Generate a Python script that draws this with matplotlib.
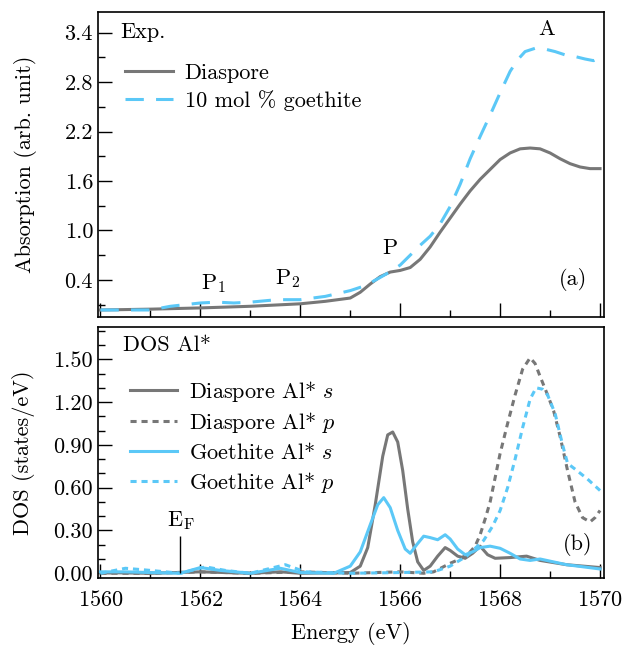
import matplotlib
matplotlib.use("Agg")
import matplotlib.pyplot as plt
from matplotlib.ticker import MultipleLocator, FormatStrFormatter

plt.rcParams['font.family'] = 'serif'
plt.rcParams['font.serif'] = ['cmr10']
plt.rcParams['mathtext.fontset'] = 'cm'
plt.rcParams['axes.formatter.use_mathtext'] = True
plt.rcParams['font.size'] = 16

GRAY = "#777777"
BLUE = "#5bc8f7"

# Experimental spectra (a)
e_dia = [1560, 1561, 1562, 1563, 1564, 1564.5, 1565, 1565.2, 1565.4, 1565.6, 1565.8, 1566.0, 1566.2,
         1566.4, 1566.6, 1566.8, 1567, 1567.2, 1567.4, 1567.6, 1567.8, 1568, 1568.2, 1568.4, 1568.6,
         1568.8, 1569, 1569.2, 1569.4, 1569.6, 1569.8, 1570]
a_dia = [0.035, 0.045, 0.06, 0.08, 0.11, 0.14, 0.18, 0.25, 0.35, 0.44, 0.495, 0.515, 0.55,
         0.65, 0.8, 0.98, 1.15, 1.32, 1.48, 1.62, 1.74, 1.86, 1.94, 1.99, 2.0,
         1.99, 1.94, 1.87, 1.81, 1.77, 1.75, 1.75]

e_goe = [1560, 1561, 1561.4, 1562, 1562.33, 1562.67, 1563, 1563.53, 1564, 1564.5, 1565, 1565.3,
         1565.6, 1565.8, 1566, 1566.2, 1566.4, 1566.6, 1566.8, 1567, 1567.2, 1567.4, 1567.6, 1567.8,
         1568, 1568.2, 1568.35, 1568.5, 1568.7, 1568.9, 1569.1, 1569.3, 1569.5, 1569.7, 1569.87, 1570]
a_goe = [0.035, 0.035, 0.08, 0.12, 0.13, 0.12, 0.13, 0.16, 0.16, 0.2, 0.27, 0.33,
         0.43, 0.5, 0.58, 0.7, 0.82, 0.93, 1.08, 1.29, 1.56, 1.87, 2.14, 2.4,
         2.67, 2.93, 3.07, 3.17, 3.21, 3.2, 3.17, 3.13, 3.11, 3.08, 3.06, 3.1]

# Calculated DOS (b)
e_ds = [1560, 1561, 1562, 1563, 1563.6, 1564, 1565, 1565.2, 1565.35, 1565.5, 1565.65, 1565.75,
        1565.85, 1565.95, 1566.05, 1566.15, 1566.25, 1566.35, 1566.47, 1566.6, 1566.75, 1566.9,
        1567.0, 1567.15, 1567.3, 1567.45, 1567.6, 1567.75, 1567.9, 1568.2, 1568.53, 1568.8,
        1569.33, 1570]
d_ds = [0.005, 0.0, 0.01, 0.0, 0.01, 0.0, 0.005, 0.05, 0.18, 0.48, 0.82, 0.97,
        0.99, 0.92, 0.72, 0.45, 0.22, 0.08, 0.02, 0.05, 0.12, 0.18,
        0.16, 0.12, 0.105, 0.14, 0.19, 0.13, 0.105, 0.11, 0.12, 0.09,
        0.06, 0.04]

e_dp = [1560, 1561, 1562, 1563, 1564, 1565, 1566, 1566.47, 1566.67, 1567, 1567.2, 1567.4, 1567.5,
        1567.6, 1567.7, 1567.8, 1567.9, 1568, 1568.15, 1568.3, 1568.45, 1568.6, 1568.7, 1568.8,
        1568.95, 1569.07, 1569.2, 1569.35, 1569.5, 1569.65, 1569.8, 1569.9, 1570]
d_dp = [0.0, 0.0, 0.01, 0.0, 0.01, 0.0, 0.01, 0.0, 0.01, 0.07, 0.1, 0.15, 0.19,
        0.27, 0.38, 0.5, 0.67, 0.84, 1.05, 1.25, 1.43, 1.51, 1.47, 1.38,
        1.25, 1.14, 0.96, 0.72, 0.5, 0.39, 0.36, 0.39, 0.44]

e_gs = [1560, 1560.5, 1561, 1561.6, 1562, 1562.4, 1563, 1563.6, 1564, 1564.67, 1565, 1565.2,
        1565.4, 1565.55, 1565.67, 1565.8, 1565.95, 1566.1, 1566.2, 1566.33, 1566.47, 1566.6,
        1566.75, 1566.9, 1567.0, 1567.15, 1567.3, 1567.45, 1567.6, 1567.8, 1568, 1568.2, 1568.4,
        1568.6, 1568.8, 1569.33, 1570]
d_gs = [0.01, 0.01, 0.005, 0.0, 0.04, 0.02, 0.0, 0.035, 0.005, 0.0, 0.05, 0.15,
        0.34, 0.48, 0.53, 0.46, 0.3, 0.17, 0.14, 0.2, 0.26, 0.25,
        0.235, 0.27, 0.24, 0.17, 0.13, 0.15, 0.18, 0.19, 0.175, 0.14, 0.1,
        0.09, 0.1, 0.06, 0.03]

e_gp = [1560, 1560.5, 1561, 1561.6, 1562.1, 1562.5, 1563, 1563.7, 1564.1, 1565, 1566, 1566.67, 1567,
        1567.33, 1567.67, 1567.85, 1568, 1568.15, 1568.3, 1568.45, 1568.6, 1568.72, 1568.85,
        1568.95, 1569.1, 1569.25, 1569.35, 1569.5, 1569.75, 1570]
d_gp = [0.0, 0.035, 0.02, 0.0, 0.045, 0.02, 0.0, 0.06, 0.01, 0.0, 0.005, 0.01, 0.05,
        0.12, 0.23, 0.33, 0.44, 0.6, 0.8, 1.02, 1.22, 1.30, 1.29,
        1.25, 1.12, 0.9, 0.77, 0.73, 0.66, 0.58]

fig = plt.figure(figsize=(6.24, 6.46), dpi=100)
ax1 = fig.add_axes([0.157, 0.5093, 0.811, 0.4721])
ax2 = fig.add_axes([0.157, 0.1053, 0.811, 0.3885])

# (a) experiment
ax1.plot(e_dia, a_dia, color=GRAY, lw=2.2, label="Diaspore")
ax1.plot(e_goe, a_goe, color=BLUE, lw=2.2, dashes=(6, 4), label="10 mol % goethite")
ax1.set_xlim(1559.95, 1570.08)
ax1.set_ylim(-0.05, 3.65)
ax1.set_ylabel("Absorption (arb. unit)", labelpad=20)
ax1.yaxis.set_major_formatter(FormatStrFormatter('%.1f'))
ax1.set_yticks([0.4, 1.0, 1.6, 2.2, 2.8, 3.4])
ax1.set_yticks([0.1, 0.7, 1.3, 1.9, 2.5, 3.1], minor=True)
ax1.text(1560.4, 3.4, "Exp.", va="center", ha="left")
ax1.text(1568.94, 3.44, "A", ha="center", va="center")
ax1.text(1565.8, 0.79, "P", ha="center", va="center")
ax1.text(1562.25, 0.36, r"$\mathrm{P}_1$", ha="center", va="center")
ax1.text(1563.75, 0.42, r"$\mathrm{P}_2$", ha="center", va="center")
ax1.text(1569.45, 0.4, "(a)", ha="center", va="center")
ax1.legend(loc="upper left", bbox_to_anchor=(0.035, 0.86), frameon=False,
           handlelength=2.2, handletextpad=0.5, labelspacing=0.3, borderaxespad=0)
ax1.tick_params(labelbottom=False)

# (b) DOS
ax2.plot(e_ds, d_ds, color=GRAY, lw=2.2, label=r"Diaspore Al* $s$")
ax2.plot(e_dp, d_dp, color=GRAY, lw=2.2, dashes=(2, 1.6), label=r"Diaspore Al* $p$")
ax2.plot(e_gs, d_gs, color=BLUE, lw=2.2, label=r"Goethite Al* $s$")
ax2.plot(e_gp, d_gp, color=BLUE, lw=2.2, dashes=(2, 1.6), label=r"Goethite Al* $p$")
ax2.vlines(1561.6, 0, 0.26, color="black", lw=1)
ax2.text(1561.6, 0.29, r"$\mathrm{E}_\mathrm{F}$", ha="center", va="bottom")
ax2.text(1560.45, 1.6, "DOS Al*", va="center", ha="left")
ax2.text(1569.55, 0.2, "(b)", ha="center", va="center")
ax2.set_xlim(1559.95, 1570.08)
ax2.set_ylim(-0.033, 1.726)
ax2.set_ylabel("DOS (states/eV)", labelpad=13)
ax2.set_xlabel("Energy (eV)", labelpad=8)
ax2.yaxis.set_major_locator(MultipleLocator(0.3))
ax2.yaxis.set_minor_locator(MultipleLocator(0.1))
ax2.yaxis.set_major_formatter(FormatStrFormatter('%.2f'))
ax2.legend(loc="upper left", bbox_to_anchor=(0.045, 0.83), frameon=False,
           handlelength=2.15, handletextpad=0.5, labelspacing=0.3, borderaxespad=0)

for ax in (ax1, ax2):
    ax.xaxis.set_major_locator(MultipleLocator(2))
    ax.xaxis.set_minor_locator(MultipleLocator(1))
    ax.tick_params(which="both", direction="in", top=False, right=False)
    ax.tick_params(which="major", length=10, width=1)
    ax.tick_params(which="minor", length=5, width=1)
    ax.tick_params(axis="x", pad=9)
    for s in ax.spines.values():
        s.set_linewidth(1.2)

fig.savefig("out.png", dpi=100)
